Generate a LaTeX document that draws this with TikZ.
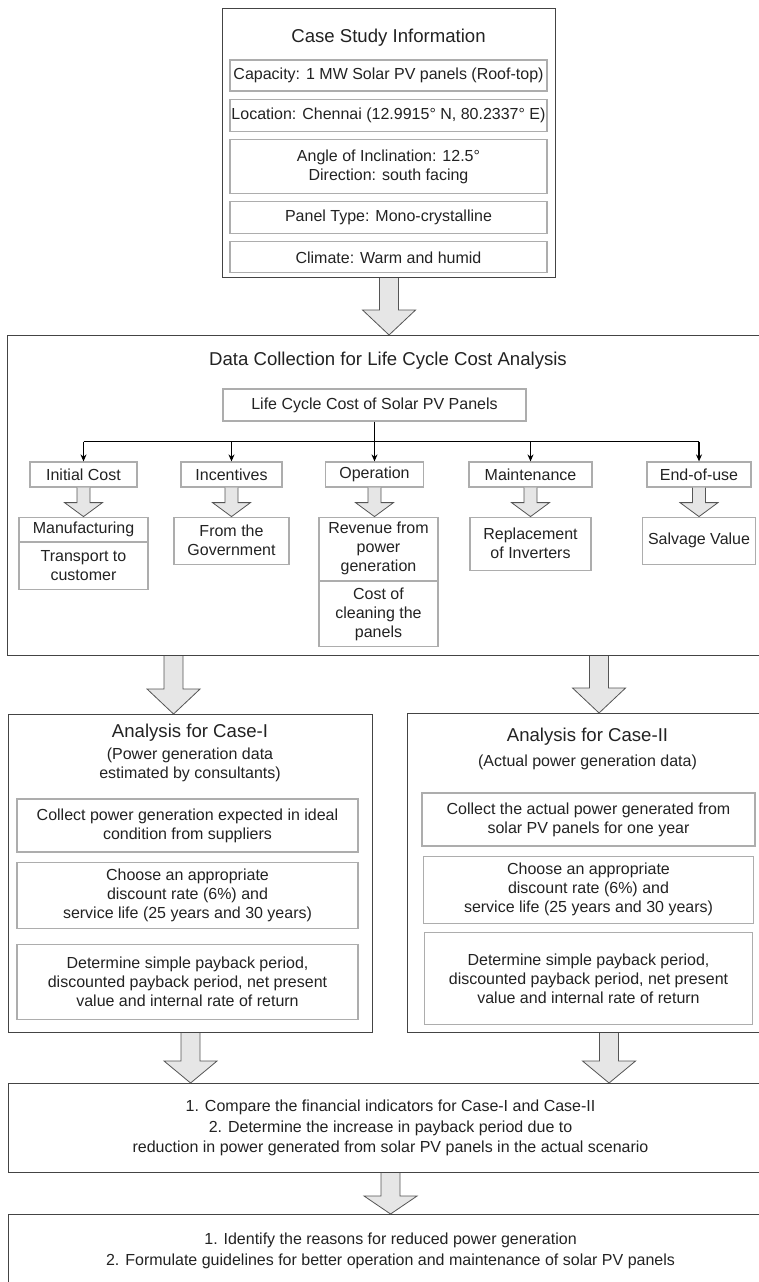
\documentclass[tikz,border=0pt]{standalone}
\usepackage{fontspec}
\setmainfont{Liberation Sans}
\usetikzlibrary{positioning, calc, arrows.meta}

\definecolor{frame}{HTML}{444444}
\definecolor{boxline}{HTML}{ADADAD}
\definecolor{arrowfill}{HTML}{E6E6E6}
\definecolor{arrowline}{HTML}{555555}
\definecolor{ink}{HTML}{222222}

\newcommand{\bodyfont}{\fontsize{16}{19}\selectfont}
\newcommand{\headfont}{\fontsize{18.6}{22}\selectfont}

\tikzset{
    blockarrow/.style n args={3}{draw=arrowline, fill=arrowfill, line width=0.8pt, line join=miter,
        to path={let \p1=(\tikztostart), \p2=(\tikztotarget) in
            (\x1-#1,\y1) -- (\x1-#1,\y2+#3) -- (\x1-#2,\y2+#3) -- (\x1,\y2)
            -- (\x1+#2,\y2+#3) -- (\x1+#1,\y2+#3) -- (\x1+#1,\y1)}},
    bigarrow/.style={blockarrow={9.5}{26.5}{#1}},
    bigarrow/.default=25,
    smallarrow/.style={blockarrow={6.5}{19}{14}}
}

\begin{document}
\begin{tikzpicture}[x=1pt, y=-1pt,
        container/.style={draw=frame, line width=1.1pt, anchor=north west, inner sep=0pt},
        item/.style={draw=boxline, line width=1.2pt, align=center, text=ink, inner sep=0pt, font=\bodyfont},
        heading/.style={text=ink, inner sep=0pt, font=\headfont},
        note/.style={text=ink, inner sep=0pt, align=center, font=\bodyfont},
        finding/.style={container, align=center, text=ink, font=\fontsize{16}{20.5}\selectfont},
        branch/.style={draw=black, line width=1.2pt},
        node distance=7pt
    ]
        \useasboundingbox (0,0) rectangle (759,1282);

        % Case study information
        \node[container, minimum width=333pt, minimum height=269pt] (casestudy) at (222,8) {};
        \node[heading] (casetitle) at (388.5,38) {Case Study Information};
        \node[item, minimum width=317pt, minimum height=31pt] (capacity) at (388.5,75.5) {Capacity: 1 MW Solar PV panels (Roof-top)};
        \node[item, minimum width=317pt, minimum height=32pt, below=of capacity] (location) {Location: Chennai (12.9915° N, 80.2337° E)};
        \node[item, minimum width=317pt, minimum height=54pt, below=of location] (angle) {Angle of Inclination: 12.5°\\Direction: south facing};
        \node[item, minimum width=317pt, minimum height=32pt, below=of angle] (paneltype) {Panel Type: Mono-crystalline};
        \node[item, minimum width=317pt, minimum height=31pt, below=of paneltype] (climate) {Climate: Warm and humid};

        % Data collection
        \node[container, minimum width=765pt, minimum height=320pt] (datacoll) at (7,335) {};
        \node[heading] (datatitle) at (388,361) {Data Collection for Life Cycle Cost Analysis};
        \node[item, minimum width=303pt, minimum height=32pt] (lcc) at (374.5,405) {Life Cycle Cost of Solar PV Panels};

        \node[item, minimum width=107pt, minimum height=25pt] (initial) at (83.5,474.5) {Initial Cost};
        \node[item, minimum width=101pt, minimum height=25pt] (incentives) at (231.5,474.5) {Incentives};
        \node[item, minimum width=98pt, minimum height=25pt] (operation) at (374.5,474.5) {Operation};
        \node[item, minimum width=123pt, minimum height=25pt] (maintenance) at (530.5,474.5) {Maintenance};
        \node[item, minimum width=104pt, minimum height=25pt] (endofuse) at (699,474.5) {End-of-use};

        \node[item, minimum width=129pt, minimum height=24pt, below=29pt of initial] (manufacturing) {Manufacturing};
        \node[item, minimum width=129pt, minimum height=47pt, below=0pt of manufacturing] (transport) {Transport to\\customer};
        \node[item, minimum width=115pt, minimum height=47pt, below=29pt of incentives] (government) {From the\\Government};
        \node[item, minimum width=119pt, minimum height=63pt, below=29pt of operation, xshift=4pt] (revenue) {Revenue from\\power\\generation};
        \node[item, minimum width=119pt, minimum height=65pt, below=0pt of revenue] (cleaning) {Cost of\\cleaning the\\panels};
        \node[item, minimum width=121pt, minimum height=53pt, below=29pt of maintenance] (inverters) {Replacement\\of Inverters};
        \node[item, minimum width=113pt, minimum height=47pt, below=29pt of endofuse] (salvage) {Salvage Value};

        \coordinate (split) at ($(lcc.south)!0.5!(operation.north)$);
        \draw[branch, -{Stealth[length=7pt, width=6pt]}] (lcc.south) -- (operation.north);
        \draw[branch] (initial.north |- split) -- (endofuse.north |- split);
        \foreach \leaf in {initial, incentives, maintenance, endofuse}
            \draw[branch, -{Stealth[length=7pt, width=6pt]}] (\leaf.north |- split) -- (\leaf.north);

        \foreach \leaf/\sub in {initial/manufacturing, incentives/government, operation/revenue, maintenance/inverters, endofuse/salvage}
            \draw[smallarrow] (\leaf.south) to (\leaf.south |- \sub.north);

        \draw[bigarrow] (casestudy.south) to (casestudy.south |- datacoll.north);

        % Case I
        \node[container, minimum width=364pt, minimum height=318pt] (caseone) at (8,714) {};
        \node[heading] (onetitle) at (190,733) {Analysis for Case-I};
        \node[note] (onenote) at (190,764.5) {(Power generation data\\estimated by consultants)};
        \node[item, minimum width=341pt, minimum height=53pt] (onecollect) at (187.5,825.5) {Collect power generation expected in ideal\\condition from suppliers};
        \node[item, minimum width=341pt, minimum height=66pt, below=9pt of onecollect] (onerate) {Choose an appropriate\\discount rate (6\%) and\\service life (25 years and 30 years)};
        \node[item, minimum width=341pt, minimum height=75pt, below=15pt of onerate] (oneresult) {Determine simple payback period,\\discounted payback period, net present\\value and internal rate of return};

        % Case II
        \node[container, minimum width=383pt, minimum height=319pt] (casetwo) at (407,713) {};
        \node[heading] (twotitle) at (587.5,737) {Analysis for Case-II};
        \node[note] (twonote) at (587.5,762) {(Actual power generation data)};
        \node[item, minimum width=333pt, minimum height=53pt] (twocollect) at (588.5,819.5) {Collect the actual power generated from\\solar PV panels for one year};
        \node[item, minimum width=330pt, minimum height=67pt, below=9pt of twocollect] (tworate) {Choose an appropriate\\discount rate (6\%) and\\service life (25 years and 30 years)};
        \node[item, minimum width=328pt, minimum height=92pt, below=8pt of tworate] (tworesult) {Determine simple payback period,\\discounted payback period, net present\\value and internal rate of return};

        \coordinate (onein) at ([xshift=-17pt]caseone.north);
        \draw[bigarrow] (onein |- datacoll.south) to (onein);
        \draw[bigarrow] (casetwo.north |- datacoll.south) to (casetwo.north);

        % Findings
        \node[finding, minimum width=764pt, minimum height=89pt] (compare) at (8,1083) {1. Compare the financial indicators for Case-I and Case-II\\2. Determine the increase in payback period due to\\reduction in power generated from solar PV panels in the actual scenario};
        \node[finding, minimum width=764pt, minimum height=73pt] (actions) at (8,1214) {1. Identify the reasons for reduced power generation\\2. Formulate guidelines for better operation and maintenance of solar PV panels};

        \coordinate (twoout) at ([xshift=10pt]casetwo.south);
        \draw[bigarrow=22] (caseone.south) to (caseone.south |- compare.north);
        \draw[bigarrow=22] (twoout) to (twoout |- compare.north);
        \draw[bigarrow=18] (compare.south) to (actions.north);
    \end{tikzpicture}
\end{document}
